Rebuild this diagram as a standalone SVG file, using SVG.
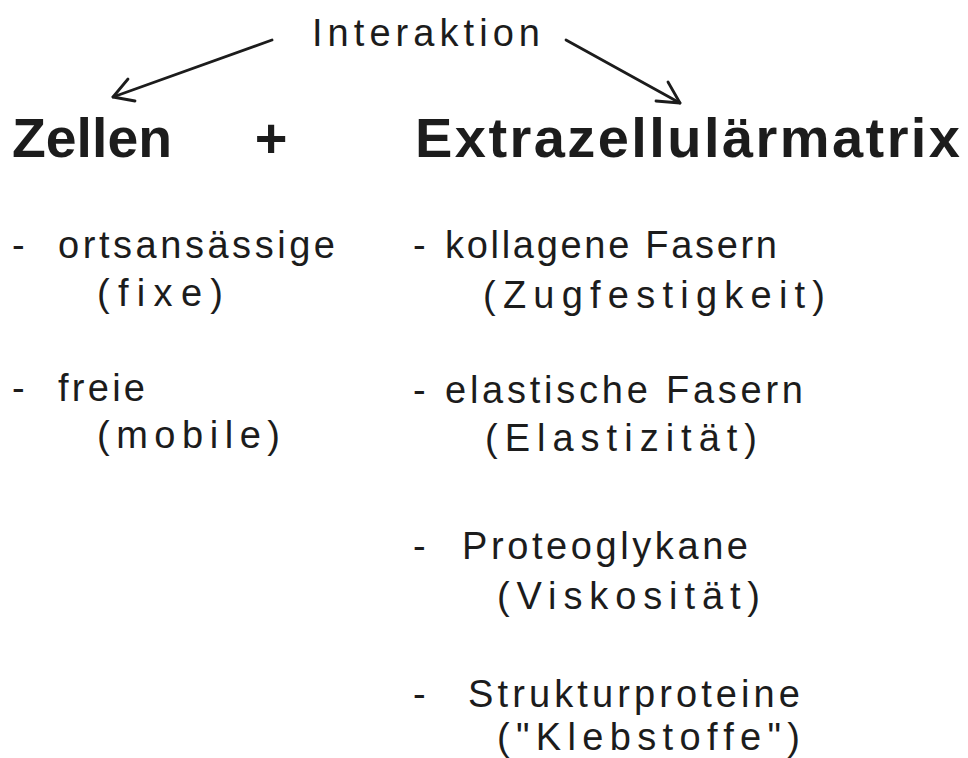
<svg xmlns="http://www.w3.org/2000/svg" width="968" height="758" viewBox="0 0 968 758">
<style>
.t{font-family:"Liberation Sans",Arial,sans-serif;font-size:38px;fill:#1c1c1c}
.b{font-family:"Liberation Sans",Arial,sans-serif;font-size:56px;font-weight:bold;fill:#1c1c1c}
.ln{stroke:#1c1c1c;stroke-width:2.8;fill:none;stroke-linecap:round;stroke-linejoin:round}
</style>
<rect width="968" height="758" fill="#ffffff"/>
<g id="interaktion"><text class="t" x="312" y="46" font-size="38" textLength="228" lengthAdjust="spacing">Interaktion</text></g>
<g id="connectors">
<line class="ln" x1="272" y1="40" x2="113" y2="97"/>
<polyline class="ln" points="128,79 113,97 135,101"/>
<line class="ln" x1="566" y1="40" x2="680" y2="103"/>
<polyline class="ln" points="668,82 680,103 656,101"/>
</g>
<g id="zellen">
<text class="b" x="12" y="157" textLength="160" lengthAdjust="spacingAndGlyphs">Zellen</text>
<text class="t" x="12" y="258">-</text>
<text class="t" x="58" y="258" textLength="277" lengthAdjust="spacing">ortsansässige</text>
<text class="t" x="97" y="306" textLength="126" lengthAdjust="spacing">(fixe)</text>
<text class="t" x="12" y="401">-</text>
<text class="t" x="58" y="401" textLength="87" lengthAdjust="spacing">freie</text>
<text class="t" x="97" y="448" textLength="183" lengthAdjust="spacing">(mobile)</text>
</g>
<g id="plus"><text class="b" x="271" y="157" text-anchor="middle">+</text></g>
<g id="ezm">
<text class="b" x="415" y="157" textLength="545" lengthAdjust="spacing">Extrazellulärmatrix</text>
<text class="t" x="413" y="258">-</text>
<text class="t" x="445" y="258" textLength="332" lengthAdjust="spacing">kollagene Fasern</text>
<text class="t" x="483" y="308" textLength="342" lengthAdjust="spacing">(Zugfestigkeit)</text>
<text class="t" x="413" y="403">-</text>
<text class="t" x="445" y="403" textLength="358" lengthAdjust="spacing">elastische Fasern</text>
<text class="t" x="485" y="451" textLength="272" lengthAdjust="spacing">(Elastizität)</text>
<text class="t" x="413" y="559">-</text>
<text class="t" x="462" y="559" textLength="286" lengthAdjust="spacing">Proteoglykane</text>
<text class="t" x="497" y="609" textLength="263" lengthAdjust="spacing">(Viskosität)</text>
<text class="t" x="413" y="707">-</text>
<text class="t" x="468" y="707" textLength="332" lengthAdjust="spacing">Strukturproteine</text>
<text class="t" x="497" y="750" textLength="303" lengthAdjust="spacing">("Klebstoffe")</text>
</g>
</svg>
